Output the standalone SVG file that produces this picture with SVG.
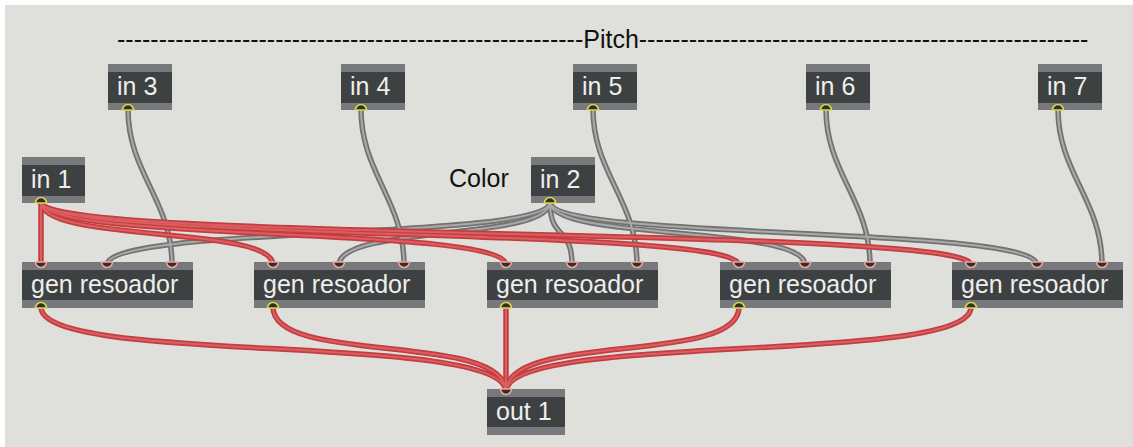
<svg xmlns="http://www.w3.org/2000/svg" xmlns:xlink="http://www.w3.org/1999/xlink" width="1133" height="447" viewBox="0 0 1133 447">
<style>
.bg{fill:#dfe0db}
.box{fill:#78797d}
.body{fill:#3d4141}
.lbl{font-family:"Liberation Sans",Arial,sans-serif;font-size:25px;fill:#eeeeee}
.cmt{font-family:"Liberation Sans",Arial,sans-serif;font-size:25px;fill:#111111}
.inl{fill:#2e3030;stroke:#f2a49a;stroke-width:1.6}
.outl{fill:#2e3030;stroke:#d9d94a;stroke-width:1.6}
.r1{fill:none;stroke:#c43d41;stroke-width:5.5;stroke-linecap:round}
.r2{fill:none;stroke:#db5f61;stroke-width:2;stroke-linecap:round}
.g1{fill:none;stroke:#727272;stroke-width:5.5;stroke-linecap:round}
.g2{fill:none;stroke:#a9a9a9;stroke-width:2;stroke-linecap:round}
</style>
<defs>
<path id="a1" d="M41,202 V265"/>
<path id="a2" d="M41,202 C41,243 273,225 273,265"/>
<path id="a3" d="M41,202 C41,243 506,225 506,265"/>
<path id="a4" d="M41,202 C41,243 739,225 739,265"/>
<path id="a5" d="M41,202 C41,243 971,225 971,265"/>
<path id="b1" d="M550,202 C550,241 107,225 107,265"/>
<path id="b2" d="M550,202 C550,241 339,225 339,265"/>
<path id="b3" d="M550,202 C550,241 572,225 572,265"/>
<path id="b4" d="M550,202 C550,241 805,225 805,265"/>
<path id="b5" d="M550,202 C550,241 1037,225 1037,265"/>
<path id="p3" d="M128,109 C128,173 172,200 172,265"/>
<path id="p4" d="M361,109 C361,173 404,200 404,265"/>
<path id="p5" d="M593,109 C593,173 637,200 637,265"/>
<path id="p6" d="M826,109 C826,173 870,200 870,265"/>
<path id="p7" d="M1058,109 C1058,173 1102,200 1102,265"/>
<path id="o1" d="M41,307 C41,366 506,331 506,392"/>
<path id="o2" d="M273,307 C273,366 506,331 506,392"/>
<path id="o3" d="M506,307 V392"/>
<path id="o4" d="M739,307 C739,366 506,331 506,392"/>
<path id="o5" d="M971,307 C971,366 506,331 506,392"/>
</defs>
<rect width="1133" height="447" fill="#ffffff"/>
<rect class="bg" x="5" y="5" width="1128" height="442"/>
<text class="cmt" x="117" y="48">--------------------------------------------------------Pitch------------------------------------------------------</text>
<text class="cmt" x="449" y="187">Color</text>

<g id="connectors">
<g class="g1"><use xlink:href="#b1"/><use xlink:href="#b2"/><use xlink:href="#b3"/><use xlink:href="#b4"/><use xlink:href="#b5"/><use xlink:href="#p3"/><use xlink:href="#p4"/><use xlink:href="#p5"/><use xlink:href="#p6"/><use xlink:href="#p7"/></g>
<g class="g2"><use xlink:href="#b1"/><use xlink:href="#b2"/><use xlink:href="#b3"/><use xlink:href="#b4"/><use xlink:href="#b5"/><use xlink:href="#p3"/><use xlink:href="#p4"/><use xlink:href="#p5"/><use xlink:href="#p6"/><use xlink:href="#p7"/></g>
<g class="r1"><use xlink:href="#a1"/><use xlink:href="#a2"/><use xlink:href="#a3"/><use xlink:href="#a4"/><use xlink:href="#a5"/><use xlink:href="#o1"/><use xlink:href="#o2"/><use xlink:href="#o3"/><use xlink:href="#o4"/><use xlink:href="#o5"/></g>
<g class="r2"><use xlink:href="#a1"/><use xlink:href="#a2"/><use xlink:href="#a3"/><use xlink:href="#a4"/><use xlink:href="#a5"/><use xlink:href="#o1"/><use xlink:href="#o2"/><use xlink:href="#o3"/><use xlink:href="#o4"/><use xlink:href="#o5"/></g>
</g>

<g id="in1"><rect class="box" x="22" y="157" width="63" height="46"/><rect class="body" x="22" y="165" width="63" height="31"/><text class="lbl" x="31" y="188">in 1</text><path class="outl" d="M35.5,203 A5.5,5.5 0 0 1 46.5,203 Z"/></g>
<g id="in2"><rect class="box" x="531" y="157" width="64" height="46"/><rect class="body" x="531" y="165" width="64" height="31"/><text class="lbl" x="540" y="188">in 2</text><path class="outl" d="M544.5,203 A5.5,5.5 0 0 1 555.5,203 Z"/></g>
<g id="in3"><rect class="box" x="108" y="64" width="64" height="46"/><rect class="body" x="108" y="72" width="64" height="31"/><text class="lbl" x="117" y="95">in 3</text><path class="outl" d="M122.5,110 A5.5,5.5 0 0 1 133.5,110 Z"/></g>
<g id="in4"><rect class="box" x="341" y="64" width="64" height="46"/><rect class="body" x="341" y="72" width="64" height="31"/><text class="lbl" x="350" y="95">in 4</text><path class="outl" d="M355.5,110 A5.5,5.5 0 0 1 366.5,110 Z"/></g>
<g id="in5"><rect class="box" x="573" y="64" width="64" height="46"/><rect class="body" x="573" y="72" width="64" height="31"/><text class="lbl" x="582" y="95">in 5</text><path class="outl" d="M587.5,110 A5.5,5.5 0 0 1 598.5,110 Z"/></g>
<g id="in6"><rect class="box" x="806" y="64" width="64" height="46"/><rect class="body" x="806" y="72" width="64" height="31"/><text class="lbl" x="815" y="95">in 6</text><path class="outl" d="M820.5,110 A5.5,5.5 0 0 1 831.5,110 Z"/></g>
<g id="in7"><rect class="box" x="1038" y="64" width="64" height="46"/><rect class="body" x="1038" y="72" width="64" height="31"/><text class="lbl" x="1047" y="95">in 7</text><path class="outl" d="M1052.5,110 A5.5,5.5 0 0 1 1063.5,110 Z"/></g>

<g id="gen1"><rect class="box" x="22" y="262" width="171" height="46"/><rect class="body" x="22" y="270" width="171" height="30"/><text class="lbl" x="31" y="293">gen resoador</text><path class="inl" d="M35.5,262 A5.5,5.5 0 0 0 46.5,262 Z"/><path class="inl" d="M101.5,262 A5.5,5.5 0 0 0 112.5,262 Z"/><path class="inl" d="M166.5,262 A5.5,5.5 0 0 0 177.5,262 Z"/><path class="outl" d="M35.5,308 A5.5,5.5 0 0 1 46.5,308 Z"/></g>
<g id="gen2"><rect class="box" x="254" y="262" width="171" height="46"/><rect class="body" x="254" y="270" width="171" height="30"/><text class="lbl" x="263" y="293">gen resoador</text><path class="inl" d="M267.5,262 A5.5,5.5 0 0 0 278.5,262 Z"/><path class="inl" d="M333.5,262 A5.5,5.5 0 0 0 344.5,262 Z"/><path class="inl" d="M398.5,262 A5.5,5.5 0 0 0 409.5,262 Z"/><path class="outl" d="M267.5,308 A5.5,5.5 0 0 1 278.5,308 Z"/></g>
<g id="gen3"><rect class="box" x="487" y="262" width="171" height="46"/><rect class="body" x="487" y="270" width="171" height="30"/><text class="lbl" x="496" y="293">gen resoador</text><path class="inl" d="M500.5,262 A5.5,5.5 0 0 0 511.5,262 Z"/><path class="inl" d="M566.5,262 A5.5,5.5 0 0 0 577.5,262 Z"/><path class="inl" d="M631.5,262 A5.5,5.5 0 0 0 642.5,262 Z"/><path class="outl" d="M500.5,308 A5.5,5.5 0 0 1 511.5,308 Z"/></g>
<g id="gen4"><rect class="box" x="720" y="262" width="171" height="46"/><rect class="body" x="720" y="270" width="171" height="30"/><text class="lbl" x="729" y="293">gen resoador</text><path class="inl" d="M733.5,262 A5.5,5.5 0 0 0 744.5,262 Z"/><path class="inl" d="M799.5,262 A5.5,5.5 0 0 0 810.5,262 Z"/><path class="inl" d="M864.5,262 A5.5,5.5 0 0 0 875.5,262 Z"/><path class="outl" d="M733.5,308 A5.5,5.5 0 0 1 744.5,308 Z"/></g>
<g id="gen5"><rect class="box" x="952" y="262" width="171" height="46"/><rect class="body" x="952" y="270" width="171" height="30"/><text class="lbl" x="961" y="293">gen resoador</text><path class="inl" d="M965.5,262 A5.5,5.5 0 0 0 976.5,262 Z"/><path class="inl" d="M1031.5,262 A5.5,5.5 0 0 0 1042.5,262 Z"/><path class="inl" d="M1096.5,262 A5.5,5.5 0 0 0 1107.5,262 Z"/><path class="outl" d="M965.5,308 A5.5,5.5 0 0 1 976.5,308 Z"/></g>

<g id="out1"><rect class="box" x="487" y="389" width="78" height="46"/><rect class="body" x="487" y="397" width="78" height="30"/><text class="lbl" x="496" y="420">out 1</text><path class="inl" d="M500.5,389 A5.5,5.5 0 0 0 511.5,389 Z"/></g>
</svg>
